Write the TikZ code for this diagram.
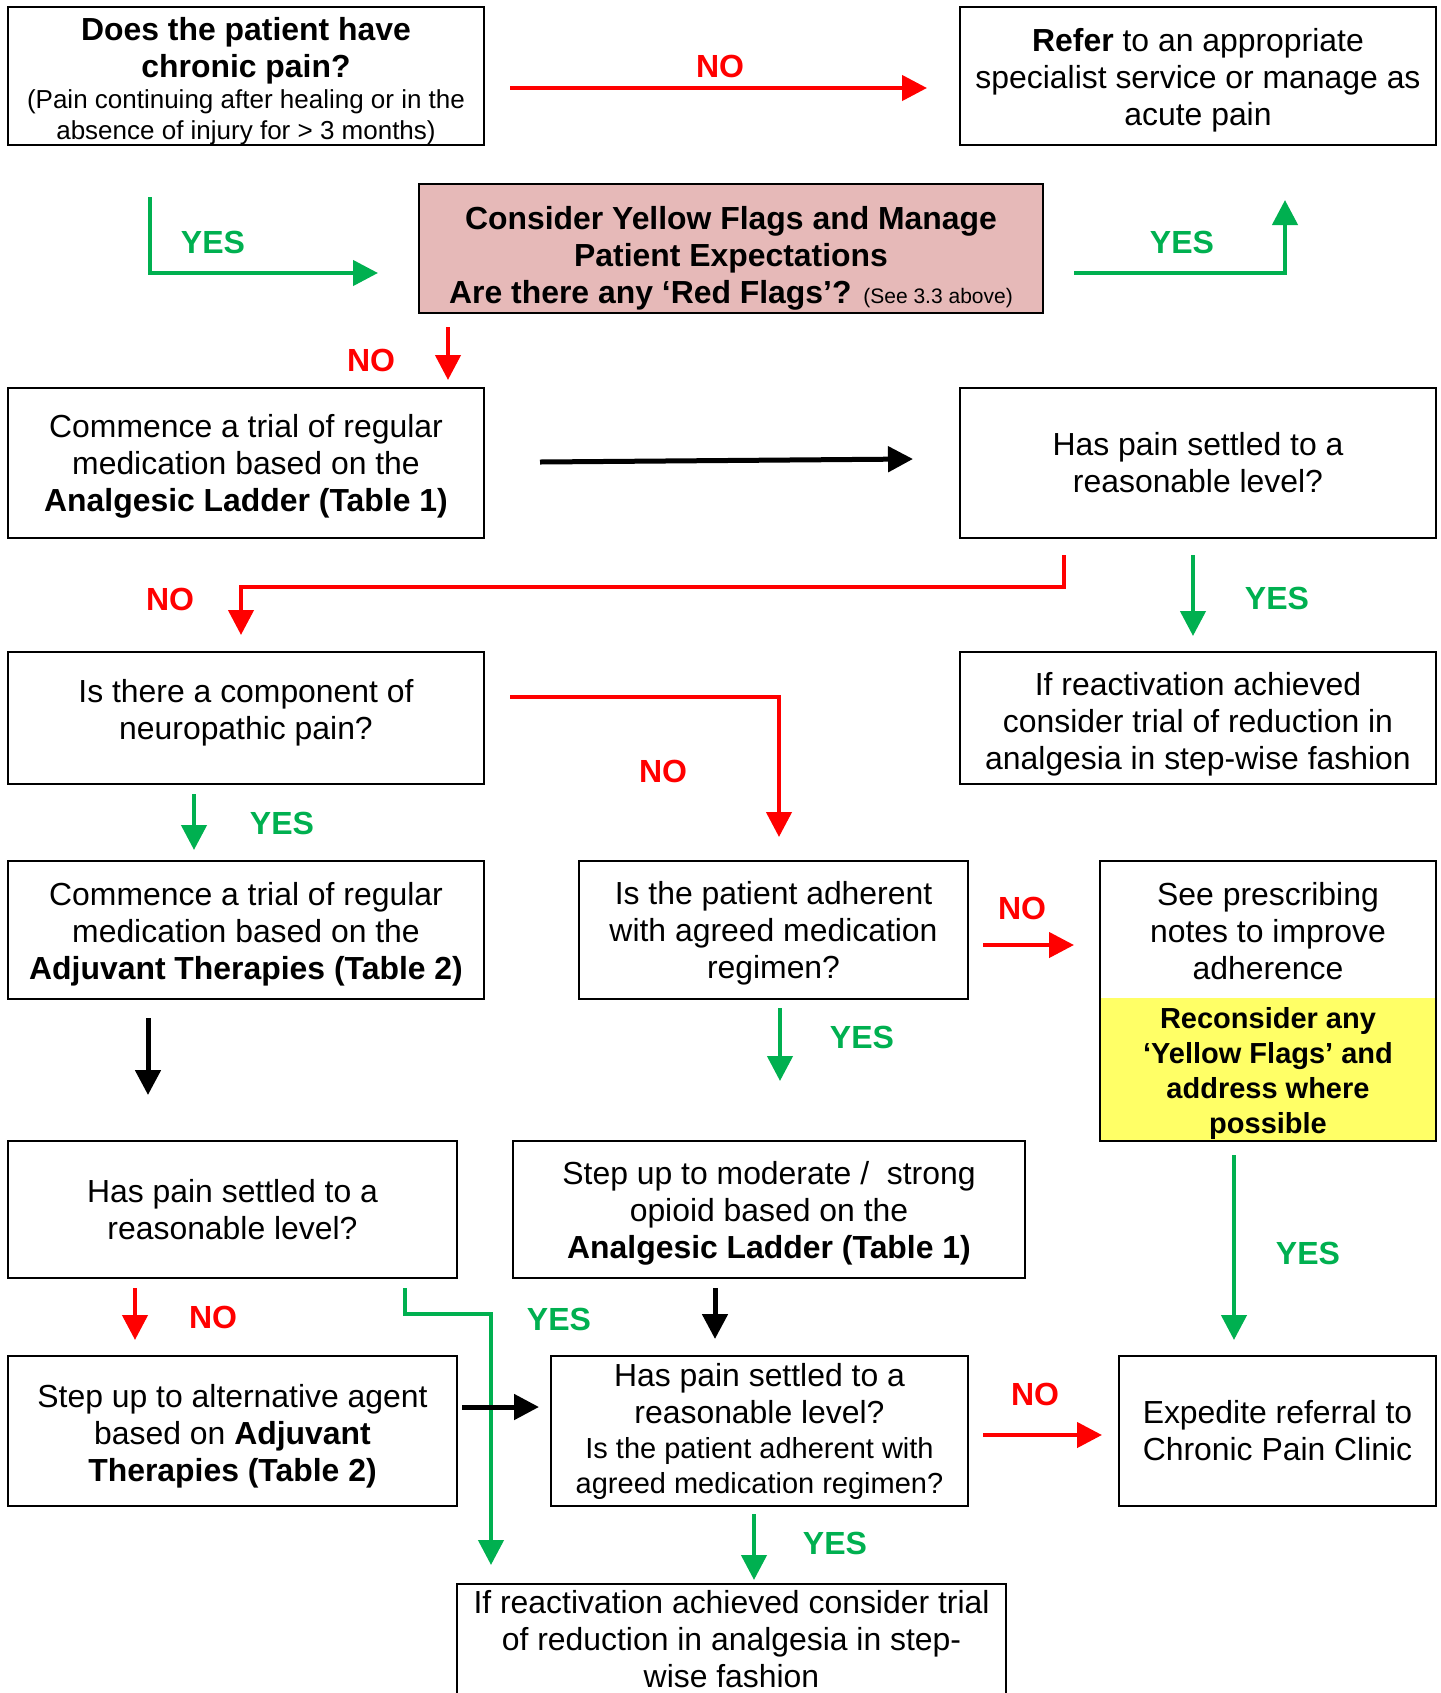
\documentclass[tikz,border=0pt]{standalone}
\usepackage{fontspec}
\setmainfont{Liberation Sans}
\usetikzlibrary{arrows.meta}
\definecolor{yesgreen}{HTML}{00B050}
\definecolor{nored}{HTML}{FF0000}
\definecolor{pinkfill}{HTML}{E6B9B8}
\definecolor{yelfill}{HTML}{FFFF66}
\newcommand\topfix[1]{\rule{0pt}{#1}}
\newcommand\botfix[1]{\rule[-#1]{0pt}{0pt}}
\begin{document}
\begin{tikzpicture}[x=0.5pt,y=-0.5pt,
  box/.style={draw, line width=1.25pt, align=flush center, inner sep=0pt, outer sep=0pt, font=\fontsize{15.95}{18.5}\selectfont},
  lbl/.style={inner sep=0pt, font=\fontsize{16}{18}\selectfont\bfseries},
  yes/.style={lbl, text=yesgreen},
  no/.style={lbl, text=nored},
  con/.style={line width=2.2pt, -{Triangle[length=12.5pt,width=12.5pt]}},
  redcon/.style={con, color=nored},
  greencon/.style={con, color=yesgreen},
  blackcon/.style={con, line width=2.5pt, color=black},
]
\useasboundingbox (0,0) rectangle (1441,1693);
\fill[white] (0,0) rectangle (1441,1693);
\clip (0,0) rectangle (1441,1693);

% ---------- boxes ----------
\node[box, minimum width=238pt, minimum height=69pt, text width=232pt] (chronic) at (246,76)
  {{\bfseries\topfix{16.8pt}Does the patient have\\ chronic pain?\par}{\fontsize{13}{15.5}\selectfont (Pain continuing after healing or in the\\ absence of injury for > 3 months)\par}};
\node[box, minimum width=238pt, minimum height=69pt, text width=232pt] (refer) at (1198,76)
  {\topfix{16pt}\textbf{Refer} to an appropriate\\ specialist service or manage as\\ acute pain};
\node[box, fill=pinkfill, minimum width=312pt, minimum height=64.5pt, text width=306pt] (flags) at (731,248.5)
  {\bfseries\topfix{21pt}Consider Yellow Flags and Manage\\ Patient Expectations\\ Are there any ‘Red Flags’? {\fontsize{10.5}{12}\mdseries\selectfont (See 3.3 above)}};
\node[box, minimum width=238pt, minimum height=75pt, text width=232pt] (ladder) at (246,463)
  {\topfix{15.2pt}Commence a trial of regular\\ medication based on the\\ \textbf{Analgesic Ladder (Table 1)}};
\node[box, minimum width=238pt, minimum height=75pt, text width=232pt] (settledA) at (1198,463)
  {Has pain settled to a\\ reasonable level?};
\node[box, minimum width=238pt, minimum height=66pt, text width=232pt] (neuro) at (246,718)
  {Is there a component of\\ neuropathic pain?\botfix{8.8pt}};
\node[box, minimum width=238pt, minimum height=66pt, text width=232pt] (reductA) at (1198,718)
  {\topfix{18.2pt}If reactivation achieved\\ consider trial of reduction in\\ analgesia in step-wise fashion};
\node[box, minimum width=238pt, minimum height=69pt, text width=232pt] (adjuv) at (246,930)
  {\topfix{16pt}Commence a trial of regular\\ medication based on the\\ \textbf{Adjuvant Therapies (Table 2)}};
\node[box, minimum width=194.5pt, minimum height=69pt, text width=188pt] (adher) at (773.5,930)
  {\topfix{14.9pt}Is the patient adherent\\ with agreed medication\\ regimen?};
\node[box, draw=none, fill=yelfill, minimum width=168pt, minimum height=71.5pt, text width=162pt,
  font=\fontsize{14.5}{17.5}\selectfont\bfseries] (yellow) at (1268,1069.5)
  {\topfix{14.2pt}Reconsider any\\ ‘Yellow Flags’ and\\ address where\\ possible};
\node[box, draw=none, minimum width=168pt, minimum height=68.5pt, text width=162pt] (notes) at (1268,929.5)
  {\topfix{12.8pt}See prescribing\\ notes to improve\\ adherence};
\draw[line width=1.25pt] (notes.north west) rectangle (yellow.south east);
\node[box, minimum width=224.5pt, minimum height=68.5pt, text width=218pt] (settledB) at (232.5,1209.5)
  {Has pain settled to a\\ reasonable level?};
\node[box, minimum width=256pt, minimum height=68.5pt, text width=250pt] (opioid) at (769,1209.5)
  {\topfix{15pt}Step up to moderate /\ \ strong\\ opioid based on the\\ \textbf{Analgesic Ladder (Table 1)}};
\node[box, minimum width=224.5pt, minimum height=75pt, text width=218pt] (altern) at (232.5,1431)
  {\topfix{16.6pt}Step up to alternative agent\\ based on \textbf{Adjuvant}\\ \textbf{Therapies (Table 2)}};
\node[box, minimum width=208.5pt, minimum height=75pt, text width=204pt] (settledC) at (759.5,1431)
  {{Has pain settled to a\\ reasonable level?\par}{\fontsize{14.5}{17.5}\selectfont Is the patient adherent with\\ agreed medication regimen?\par}};
\node[box, minimum width=158.5pt, minimum height=75pt, text width=152pt] (expedite) at (1277.5,1431)
  {Expedite referral to\\ Chronic Pain Clinic};
\node[box, anchor=north, minimum width=274.5pt, text width=268pt, inner ysep=3pt] (reductB) at (731.5,1584)
  {If reactivation achieved consider trial\\ of reduction in analgesia in step-\\ wise fashion\rule[-12pt]{0pt}{1pt}};

% ---------- connectors ----------
\coordinate (a1) at (510,88);   \coordinate (a2) at (927,88);
\draw[redcon] (a1) -- (a2);
\node[no] (la) at (720,66) {NO};

\coordinate (b1) at (150,197);  \coordinate (b2) at (378,273);
\draw[greencon] (b1) |- (b2);
\node[yes] (lb) at (213,242) {YES};

\coordinate (c1) at (1074,273); \coordinate (c2) at (1285,200);
\draw[greencon] (c1) -| (c2);
\node[yes] (lc) at (1182,242) {YES};

\coordinate (d1) at (448,327);  \coordinate (d2) at (448,380);
\draw[redcon] (d1) -- (d2);
\node[no] (ld) at (371,360) {NO};

\coordinate (e1) at (540,462);  \coordinate (e2) at (913,459);
\draw[blackcon] (e1) -- (e2);

\coordinate (f1) at (1064,555); \coordinate (f2) at (241,635);
\draw[redcon] (f1) -- ++(0,32) -| (f2);
\node[no] (lf) at (170,599) {NO};

\coordinate (g1) at (1193,555); \coordinate (g2) at (1193,636);
\draw[greencon] (g1) -- (g2);
\node[yes] (lg) at (1277,598) {YES};

\coordinate (h1) at (510,697);  \coordinate (h2) at (779,837);
\draw[redcon] (h1) -| (h2);
\node[no] (lh) at (663,771) {NO};

\coordinate (i1) at (194,794);  \coordinate (i2) at (194,850);
\draw[greencon] (i1) -- (i2);
\node[yes] (li) at (282,823) {YES};

\coordinate (j1) at (148,1018); \coordinate (j2) at (148,1095);
\draw[blackcon] (j1) -- (j2);

\coordinate (k1) at (983,945);  \coordinate (k2) at (1074,945);
\draw[redcon] (k1) -- (k2);
\node[no] (lk) at (1022,908) {NO};

\coordinate (l1) at (780,1008); \coordinate (l2) at (780,1081);
\draw[greencon] (l1) -- (l2);
\node[yes] (ll) at (862,1037) {YES};

\coordinate (m1) at (1234,1155); \coordinate (m2) at (1234,1340);
\draw[greencon] (m1) -- (m2);
\node[yes] (lm) at (1308,1253) {YES};

\coordinate (n1) at (135,1288); \coordinate (n2) at (135,1340);
\draw[redcon] (n1) -- (n2);
\node[no] (ln) at (213,1317) {NO};

\coordinate (o1) at (405,1288); \coordinate (o2) at (491,1565);
\draw[greencon] (o1) -- ++(0,26) -| (o2);
\node[yes] (lo) at (559,1319) {YES};

\coordinate (p1) at (715,1288); \coordinate (p2) at (715,1339);
\draw[blackcon] (p1) -- (p2);

\coordinate (q1) at (462,1407); \coordinate (q2) at (539,1407);
\draw[blackcon] (q1) -- (q2);

\coordinate (r1) at (983,1435); \coordinate (r2) at (1102,1435);
\draw[redcon] (r1) -- (r2);
\node[no] (lr) at (1035,1394) {NO};

\coordinate (s1) at (754,1514); \coordinate (s2) at (754,1580);
\draw[greencon] (s1) -- (s2);
\node[yes] (ls) at (835,1543) {YES};
\end{tikzpicture}
\end{document}
